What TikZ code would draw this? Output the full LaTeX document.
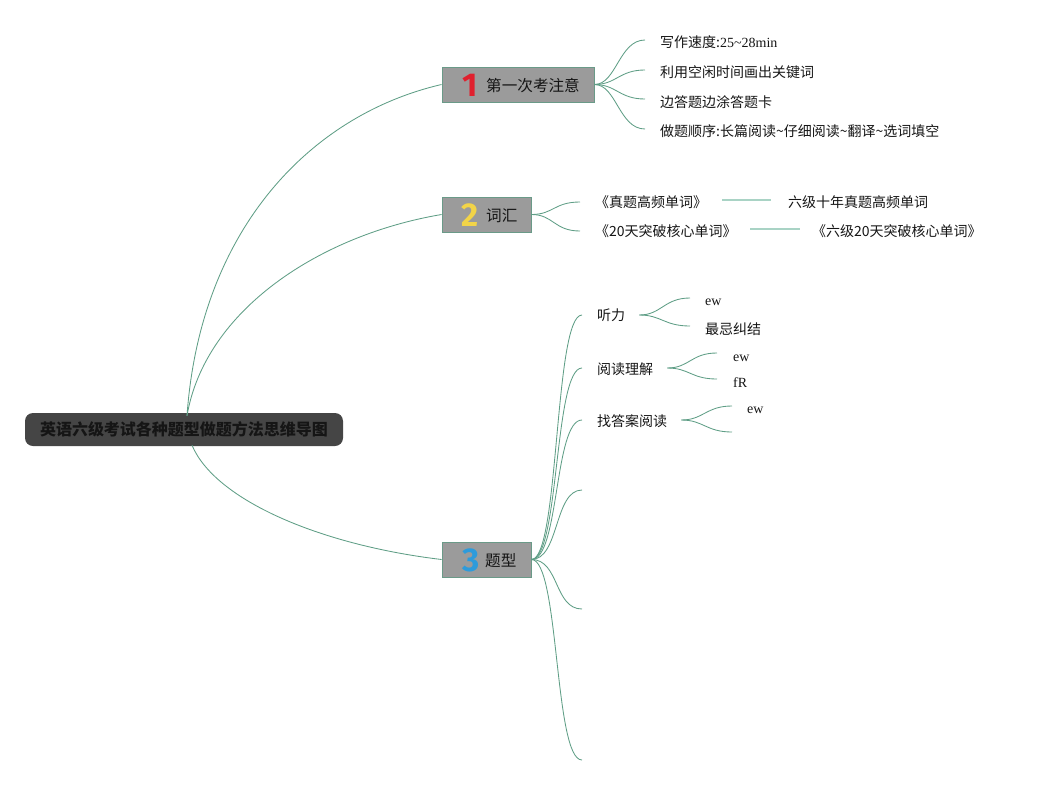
\documentclass[tikz,border=0pt]{standalone}
\usepackage{fontspec}
\setmainfont{Liberation Serif}
\newfontfamily\cjk{Noto Sans CJK SC}
\newfontfamily\numfont{Fira Sans}
\definecolor{lc}{HTML}{5F9E86}
\definecolor{gapc}{HTML}{A9D3C5}
\definecolor{bf}{HTML}{9B9B9B}
\definecolor{bc}{HTML}{6A9A88}
\definecolor{rootf}{HTML}{454545}
\definecolor{tc}{HTML}{151515}
\definecolor{numred}{HTML}{E0202E}
\definecolor{numyel}{HTML}{F2D448}
\definecolor{numblu}{HTML}{2E9BDB}
\tikzset{
  conn/.style={draw=lc, line width=0.85pt},
  gapline/.style={draw=gapc, line width=1.6pt},
  branchbox/.style={draw=bc, fill=bf, line width=0.9pt, rectangle, inner sep=0pt, minimum height=35pt},
  rootbox/.style={fill=rootf, rectangle, rounded corners=8pt, inner sep=0pt, minimum width=318pt, minimum height=33pt, text=tc, font=\cjk\bfseries\fontsize{16}{18}\selectfont},
  numlab/.style={inner sep=0pt, font=\numfont\bfseries\fontsize{33}{35}\selectfont},
  blab/.style={anchor=west, inner sep=0pt, text=tc, text height=12pt, text depth=0pt, font=\cjk\fontsize{15.6}{18}\selectfont},
  leaf/.style={anchor=west, inner sep=0pt, text=tc, text height=12.4pt, text depth=0pt, font=\cjk\fontsize{14}{16}\selectfont},
  lat/.style={anchor=west, inner sep=0pt, text=tc, text height=10.5pt, text depth=0pt, font=\rmfamily\fontsize{14}{16}\selectfont},
}
\begin{document}
\begin{tikzpicture}[x=1pt,y=-1pt]
\useasboundingbox (0,0) rectangle (1045,785);

% root
\node[rootbox] (root) at (184,429.5) {英语六级考试各种题型做题方法思维导图};

% branch boxes
\node[branchbox, minimum width=152pt] (n1) at (518,84.5) {};
\node[branchbox, minimum width=89pt] (n2) at (486.5,214.5) {};
\node[branchbox, minimum width=89pt] (n3) at (486.5,559.5) {};

\node[numlab, text=numred] (d1) at (470,85) {1};
\node[blab] (b1) at (486,85) {第一次考注意};
\node[numlab, text=numyel] (d2) at (470,215) {2};
\node[blab] (b2) at (486,215) {词汇};
\node[numlab, text=numblu] (d3) at (471,560) {3};
\node[blab] (b3) at (485,560) {题型};

% root connectors
\draw[conn] ([xshift=3pt,yshift=-3pt]root.north) .. controls (200,230) and (310,115) .. (n1.west);
\draw[conn] ([xshift=3pt,yshift=-3pt]root.north) .. controls (205,310) and (320,235) .. (n2.west);
\draw[conn] ([xshift=8pt,yshift=1pt]root.south) .. controls (215,500) and (320,545) .. (n3.west);

% branch 1 leaves
\node[leaf] (l11) at (660,41) {写作速度:\rmfamily 25\textasciitilde 28min};
\node[leaf] (l12) at (660,71) {利用空闲时间画出关键词};
\node[leaf] (l13) at (660,101) {边答题边涂答题卡};
\node[leaf] (l14) at (660,130) {做题顺序:长篇阅读\textasciitilde 仔细阅读\textasciitilde 翻译\textasciitilde 选词填空};
\foreach \t/\yy in {l11/40,l12/70,l13/99,l14/129}{
  \draw[conn] (n1.east) .. controls +(22,0) and +(-26,0) .. (645,\yy);
}

% branch 2 leaves
\node[leaf] (l21) at (595,201) {《真题高频单词》};
\node[leaf] (l22) at (788,201) {六级十年真题高频单词};
\node[leaf] (l23) at (595,230) {《20天突破核心单词》};
\node[leaf] (l24) at (812,230) {《六级20天突破核心单词》};
\draw[conn] (n2.east) .. controls +(22,0) and +(-26,0) .. ([xshift=-15pt,yshift=-1pt]l21.west);
\draw[conn] (n2.east) .. controls +(22,0) and +(-26,0) .. ([xshift=-15pt,yshift=-1pt]l23.west);
\draw[gapline] (722,200) -- (771,200);
\draw[gapline] (750,229) -- (800,229);

% branch 3 leaves
\node[leaf] (t1) at (597,314) {听力};
\node[leaf] (t2) at (597,368) {阅读理解};
\node[leaf] (t3) at (597,420) {找答案阅读};
\coordinate (e4) at (582,490);
\coordinate (e5) at (582,609);
\coordinate (e6) at (582,760);
\draw[conn] (n3.east) .. controls +(28,0) and +(-28,0) .. ([xshift=-15pt,yshift=-1pt]t1.west);
\draw[conn] (n3.east) .. controls +(28,0) and +(-28,0) .. ([xshift=-15pt]t2.west);
\draw[conn] (n3.east) .. controls +(28,0) and +(-28,0) .. ([xshift=-15pt]t3.west);
\draw[conn] (n3.east) .. controls +(28,0) and +(-28,0) .. (e4);
\draw[conn] (n3.east) .. controls +(28,0) and +(-28,0) .. (e5);
\draw[conn] (n3.east) .. controls +(28,0) and +(-28,0) .. (e6);

% sub leaves
\node[lat] (s11) at (705,300) {ew};
\node[leaf] (s12) at (705,328) {最忌纠结};
\draw[conn] ([xshift=14pt,yshift=-1pt]t1.east) .. controls +(22,0) and +(-26,0) .. (690,298);
\draw[conn] ([xshift=14pt,yshift=-1pt]t1.east) .. controls +(22,0) and +(-26,0) .. (690,326);

\node[lat] (s21) at (733,356) {ew};
\node[lat] (s22) at (733,382) {fR};
\draw[conn] ([xshift=14pt]t2.east) .. controls +(22,0) and +(-26,0) .. (717,353);
\draw[conn] ([xshift=14pt]t2.east) .. controls +(22,0) and +(-26,0) .. (717,379);

\node[lat] (s31) at (747,408) {ew};
\coordinate (s32) at (732,432);
\draw[conn] ([xshift=14pt]t3.east) .. controls +(22,0) and +(-26,0) .. (732,406);
\draw[conn] ([xshift=14pt]t3.east) .. controls +(22,0) and +(-26,0) .. (s32);
\end{tikzpicture}
\end{document}
